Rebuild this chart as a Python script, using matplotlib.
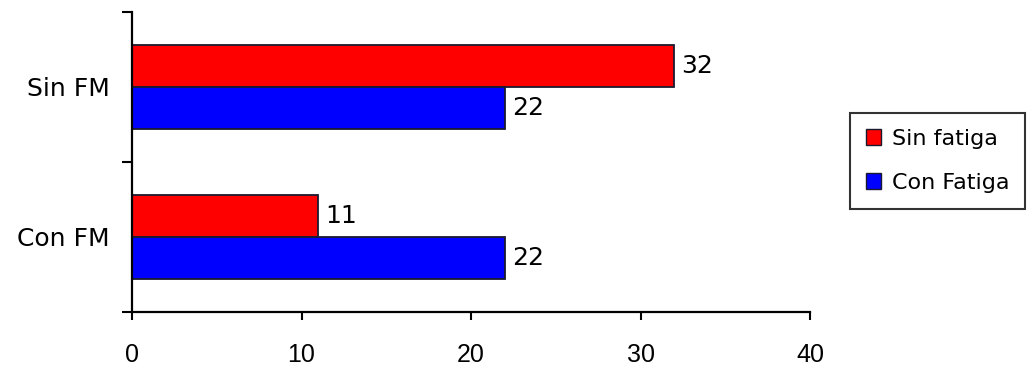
import numpy as np
import matplotlib.pyplot as plt
from matplotlib.patches import Patch

categories = ["Con FM", "Sin FM"]
sin_fatiga = [11, 32]
con_fatiga = [22, 22]
series_names = ["Sin fatiga", "Con Fatiga"]

plt.rcParams["font.family"] = ["DejaVu Sans"]

fig = plt.figure(figsize=(10.36, 3.68), dpi=100)
ax = fig.add_axes([132 / 1036, 56 / 368, 678 / 1036, 300 / 368])

y = np.arange(len(categories))
h = 0.28
edge = "#1a1a2e"
red_bars = ax.barh(y + h / 2, sin_fatiga, height=h, color="#ff0000",
                   edgecolor=edge, linewidth=1.3)
blue_bars = ax.barh(y - h / 2, con_fatiga, height=h, color="#0000ff",
                    edgecolor=edge, linewidth=1.3)

for bars in (red_bars, blue_bars):
    ax.bar_label(bars, labels=[str(v) for v in bars.datavalues],
                 padding=5, fontsize=18)

ax.set_xlim(0, 40)
ax.set_ylim(-0.5, 1.5)
ax.set_xticks([0, 10, 20, 30, 40])
ax.tick_params(axis="x", length=6, width=1.5, pad=16)
for lbl in ax.get_xticklabels():
    lbl.set_fontfamily("Liberation Sans")
    lbl.set_fontsize(18)

# category names in the middle, tick marks on the category boundaries
ax.set_yticks(y)
ax.set_yticklabels(categories)
ax.tick_params(axis="y", which="major", length=0, pad=16, labelsize=18)
ax.set_yticks([-0.5, 0.5, 1.5], minor=True)
ax.tick_params(axis="y", which="minor", length=7, width=1.5)

for side in ("top", "right"):
    ax.spines[side].set_visible(False)
for side in ("left", "bottom"):
    ax.spines[side].set_linewidth(1.6)

handles = [Patch(facecolor="#ff0000", edgecolor=edge, linewidth=1.0),
           Patch(facecolor="#0000ff", edgecolor=edge, linewidth=1.0)]
leg = fig.legend(handles, series_names, loc="upper left",
                 bbox_to_anchor=(850 / 1036, 1 - 113 / 368),
                 fontsize=16, frameon=True, fancybox=False,
                 handlelength=0.7, handleheight=0.7, handletextpad=0.5,
                 labelspacing=1.1, borderpad=0.7, borderaxespad=0)
leg.get_frame().set_edgecolor("black")
leg.get_frame().set_linewidth(1.5)

fig.savefig("out.png", dpi=100)
